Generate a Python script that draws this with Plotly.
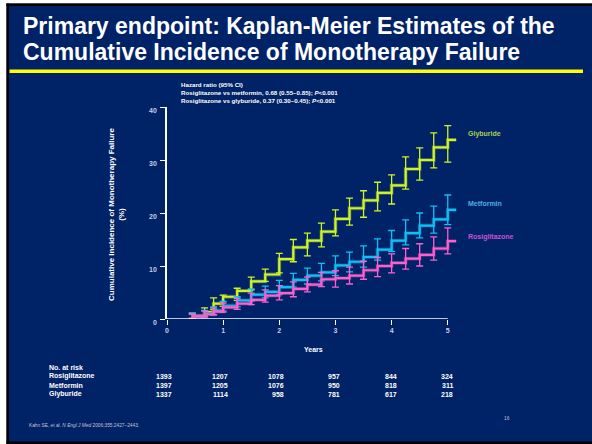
import plotly.graph_objects as go

# ---- data -------------------------------------------------------------
step_years = [0.45, 0.67, 0.83, 1.0, 1.25, 1.5, 1.75, 2.0, 2.25, 2.5, 2.75,
              3.0, 3.25, 3.5, 3.75, 4.0, 4.25, 4.5, 4.75, 5.0]
end_year = 5.15

glyburide = [0.6, 1.3, 2.9, 4.2, 5.3, 7.1, 8.4, 11.3, 13.5, 14.8, 16.5,
             18.9, 20.9, 22.4, 23.8, 25.2, 28.3, 30.0, 32.4, 33.8]
glyburide_lo = [0.1, 0.6, 1.8, 2.4, 3.5, 5.5, 7.1, 8.7, 10.8, 11.9, 13.6,
                15.7, 17.7, 19.2, 20.4, 21.7, 24.5, 26.2, 28.5, 29.6]
glyburide_hi = [1.1, 2.1, 4.0, 4.5, 5.8, 7.9, 9.4, 12.4, 15.0, 16.2, 18.1,
                20.6, 22.8, 24.2, 25.8, 27.2, 30.6, 32.3, 35.1, 36.5]

metformin = [0.5, 1.0, 1.6, 2.5, 3.5, 4.6, 5.1, 6.0, 7.4, 8.2, 8.8,
             10.1, 10.8, 11.7, 13.1, 14.8, 16.2, 17.6, 18.8, 20.6]
metformin_lo = [0.0, 0.4, 0.8, 1.5, 2.3, 3.4, 4.0, 4.6, 6.0, 6.6, 7.2,
                8.2, 8.9, 9.8, 11.1, 12.7, 14.0, 15.3, 16.2, 17.8]
metformin_hi = [1.1, 1.6, 2.3, 3.3, 4.2, 5.7, 6.2, 7.3, 8.6, 9.6, 10.5,
                11.9, 12.6, 13.8, 15.1, 16.7, 18.7, 20.0, 21.3, 23.4]

rosiglitazone = [0.5, 0.9, 1.4, 2.2, 2.9, 3.6, 4.4, 4.9, 5.7, 6.5, 7.5,
                 7.7, 8.2, 9.2, 10.0, 10.6, 11.4, 12.1, 13.3, 14.7]
rosiglitazone_lo = [0.1, 0.4, 0.8, 1.3, 1.8, 2.7, 3.2, 3.6, 4.2, 5.1, 6.1,
                    6.0, 6.6, 7.5, 8.0, 8.7, 9.4, 10.0, 11.1, 12.3]
rosiglitazone_hi = [0.9, 1.5, 2.1, 3.0, 3.9, 4.9, 5.5, 6.3, 7.0, 7.9, 8.8,
                    9.1, 9.8, 10.9, 11.6, 12.3, 13.3, 14.2, 15.5, 17.2]

risk_years = [0, 1, 2, 3, 4, 5]
risk_rosiglitazone = [1393, 1207, 1078, 957, 844, 324]
risk_metformin = [1397, 1205, 1076, 950, 818, 311]
risk_glyburide = [1337, 1114, 958, 781, 617, 218]

y_ticks = [0, 10, 20, 30, 40]
x_ticks = [0, 1, 2, 3, 4, 5]

# ---- style ------------------------------------------------------------
W, H = 592, 444
ML, MR, MT, MB = 167, 133, 107, 125
NAVY = "rgb(0,34,102)"
FONT = "Liberation Sans, Arial, sans-serif"
TICK_COL = "#c9cde0"

def px(x):
    return (x - ML) / (W - ML - MR)

def py(y):
    return 1 - (y - MT) / (H - MT - MB)

series = [
    ("Glyburide", glyburide, glyburide_lo, glyburide_hi, "#cdf526", "rgba(150,170,70,0.45)", "#a6d24e", 134),
    ("Metformin", metformin, metformin_lo, metformin_hi, "#0ac2f8", "rgba(50,130,190,0.45)", "#4fb0e6", 203),
    ("Rosiglitazone", rosiglitazone, rosiglitazone_lo, rosiglitazone_hi, "#ff5ed0", "rgba(170,80,160,0.45)", "#c552d2", 237),
]

fig = go.Figure()
annotations = []

for name, vals, lo, hi, col, shade, lab_col, lab_y in series:
    xs = step_years + [end_year]
    ys = vals + [vals[-1]]
    # soft underlay for the step line
    fig.add_trace(go.Scatter(x=xs, y=ys, mode="lines", line_shape="hv",
                             line=dict(color=shade, width=3.8),
                             hoverinfo="skip", showlegend=False))
    fig.add_trace(go.Scatter(x=xs, y=ys, mode="lines", line_shape="hv",
                             line=dict(color=col, width=2.2),
                             name=name, showlegend=False))
    # 95% CI whiskers at each step
    mids = [(a + b) / 2 for a, b in zip(lo, hi)]
    half = [(b - a) / 2 for a, b in zip(lo, hi)]
    fig.add_trace(go.Scatter(x=step_years, y=mids, mode="markers",
                             marker=dict(size=1, opacity=0),
                             error_y=dict(type="data", array=half, visible=True,
                                          color=col, thickness=1.3, width=3.5),
                             hoverinfo="skip", showlegend=False))
    annotations.append(dict(x=px(466), y=py(lab_y), xref="paper", yref="paper",
                            text=f"<b>{name}</b>", showarrow=False,
                            xanchor="left", yanchor="middle",
                            font=dict(family=FONT, size=7, color=lab_col)))

# title
for txt, yc in [("Primary endpoint: Kaplan-Meier Estimates of the", 26.5),
                 ("Cumulative Incidence of Monotherapy Failure", 52)]:
    annotations.append(dict(x=px(21), y=py(yc), xref="paper", yref="paper",
                            text=f"<b>{txt}</b>", showarrow=False,
                            xanchor="left", yanchor="middle",
                            font=dict(family=FONT, size=23, color="white")))

# hazard ratio box
annotations.append(dict(
    x=px(179), y=py(79.5), xref="paper", yref="paper", showarrow=False,
    xanchor="left", yanchor="top", align="left",
    text=("<b>Hazard ratio (95% CI)</b><br>"
          "<b>Rosiglitazone vs metformin, 0.68 (0.55\u20130.85); <i>P</i>&lt;0.001</b><br>"
          "<b>Rosiglitazone vs glyburide, 0.37 (0.30\u20130.45); <i>P</i>&lt;0.001</b>"),
    font=dict(family=FONT, size=6.2, color="white")))

# axis titles
annotations.append(dict(x=px(313), y=py(349), xref="paper", yref="paper",
                        text="<b>Years</b>", showarrow=False,
                        xanchor="center", yanchor="middle",
                        font=dict(family=FONT, size=7, color="white")))
annotations.append(dict(x=px(116), y=py(215), xref="paper", yref="paper",
                        text="<b>Cumulative Incidence of Monotherapy Failure<br>(%)</b>",
                        showarrow=False, textangle=-90,
                        xanchor="center", yanchor="middle",
                        font=dict(family=FONT, size=8, color="white")))

# number-at-risk table
table_rows = [("Rosiglitazone", risk_rosiglitazone, 376.3),
              ("Metformin", risk_metformin, 385.3),
              ("Glyburide", risk_glyburide, 394)]
annotations.append(dict(x=px(47), y=py(367.3), xref="paper", yref="paper",
                        text="<b>No. at risk</b>", showarrow=False,
                        xanchor="left", yanchor="middle",
                        font=dict(family=FONT, size=7, color="white")))
for label, counts, yrow in table_rows:
    annotations.append(dict(x=px(47), y=py(yrow), xref="paper", yref="paper",
                            text=f"<b>{label}</b>", showarrow=False,
                            xanchor="left", yanchor="middle",
                            font=dict(family=FONT, size=7, color="white")))
    for yr, n in zip(risk_years, counts):
        annotations.append(dict(x=yr, y=py(yrow), xref="x", yref="paper",
                                text=f"<b>{n}</b>", showarrow=False,
                                xanchor="right", yanchor="middle", xshift=7,
                                font=dict(family=FONT, size=7, color="white")))

# footer
annotations.append(dict(x=px(27), y=py(425.3), xref="paper", yref="paper",
                        text="Kahn SE, et al. <i>N Engl J Med</i> 2006;355:2427\u20132443.",
                        showarrow=False, xanchor="left", yanchor="middle",
                        font=dict(family=FONT, size=4.8, color="#c0c4d8")))
annotations.append(dict(x=px(502), y=py(418.7), xref="paper", yref="paper",
                        text="16", showarrow=False, xanchor="left", yanchor="middle",
                        font=dict(family=FONT, size=4.8, color="#c0c4d8")))

shapes = [
    # slide frame
    dict(type="rect", xref="paper", yref="paper", x0=px(0), x1=px(6.5),
         y0=py(0), y1=py(H), fillcolor="white", line_width=0, layer="below"),
    dict(type="rect", xref="paper", yref="paper", x0=px(0), x1=px(W),
         y0=py(0), y1=py(3.5), fillcolor="white", line_width=0, layer="below"),
    dict(type="rect", xref="paper", yref="paper", x0=px(6.5), x1=px(9),
         y0=py(3.5), y1=py(H), fillcolor="black", line_width=0, layer="below"),
    dict(type="rect", xref="paper", yref="paper", x0=px(6.5), x1=px(W),
         y0=py(3.5), y1=py(6), fillcolor="black", line_width=0, layer="below"),
    dict(type="rect", xref="paper", yref="paper", x0=px(6.5), x1=px(W),
         y0=py(441.5), y1=py(H), fillcolor="black", line_width=0, layer="below"),
    # yellow rule under the title
    dict(type="rect", xref="paper", yref="paper", x0=px(9.5), x1=px(583),
         y0=py(69.5), y1=py(73), fillcolor="#ffff00", line_width=0),
    # x-axis line from 0 to 5 years
    dict(type="line", xref="x", yref="y", x0=0, x1=5, y0=0, y1=0,
         line=dict(color="white", width=1.5)),
]

fig.update_layout(
    width=W, height=H,
    margin=dict(l=ML, r=MR, t=MT, b=MB),
    paper_bgcolor=NAVY, plot_bgcolor=NAVY,
    showlegend=False,
    xaxis=dict(range=[0, 5.2], tickvals=x_ticks, ticktext=[f"<b>{v}</b>" for v in x_ticks],
               showgrid=False, zeroline=False, showline=False,
               ticks="outside", ticklen=5, tickwidth=1.2, tickcolor="white",
               tickfont=dict(family=FONT, size=7, color=TICK_COL),
               fixedrange=True),
    yaxis=dict(range=[0, 40], tickvals=y_ticks, ticktext=[f"<b>{v}</b>" for v in y_ticks],
               showgrid=False, zeroline=False, showline=True, linecolor="white",
               linewidth=1.5, ticks="outside", ticklen=5, tickwidth=1.2,
               tickcolor="white", ticklabelshift=4, ticklabelstandoff=2,
               tickfont=dict(family=FONT, size=7, color=TICK_COL),
               fixedrange=True),
)
fig.layout.annotations = annotations
fig.layout.shapes = shapes

fig.write_html("out.html")
